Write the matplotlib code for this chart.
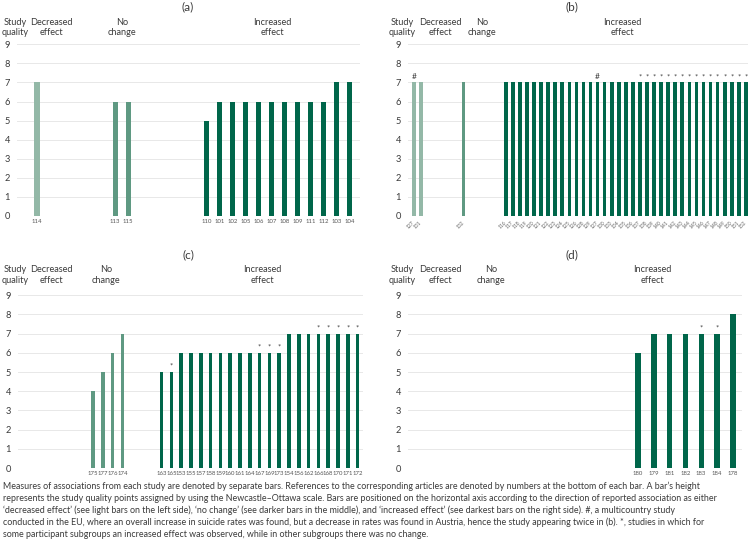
import matplotlib
matplotlib.use("Agg")
import matplotlib.pyplot as plt

plt.rcParams['font.family'] = ['Lato', 'DejaVu Sans']

# ---------------- data ----------------
# Panel (a)
a_dec_labels = ["114"]
a_dec_values = [7]
a_dec_marks = [""]
a_nc_labels = ["113", "115"]
a_nc_values = [6, 6]
a_nc_marks = ["", ""]
a_inc_labels = ["110", "101", "102", "105", "106", "107", "108", "109", "111", "112", "103", "104"]
a_inc_values = [5, 6, 6, 6, 6, 6, 6, 6, 6, 6, 7, 7]
a_inc_marks = [""] * 12

# Panel (b)
b_dec_labels = ["127", "131"]
b_dec_values = [7, 7]
b_dec_marks = ["#", ""]
b_nc_labels = ["132"]
b_nc_values = [7]
b_nc_marks = [""]
b_inc_labels = ["116", "117", "118", "119", "120", "121", "122", "123", "124", "125", "126", "128",
                "129", "127", "130", "133", "134", "135", "136", "137", "138", "139", "140", "141",
                "142", "143", "144", "145", "146", "147", "148", "149", "150", "151", "152"]
b_inc_values = [7] * 35
b_inc_marks = [""] * 13 + ["#"] + [""] * 5 + ["*"] * 16

# Panel (c)
c_dec_labels = []
c_dec_values = []
c_dec_marks = []
c_nc_labels = ["175", "177", "176", "174"]
c_nc_values = [4, 5, 6, 7]
c_nc_marks = ["", "", "", ""]
c_inc_labels = ["163", "165", "153", "155", "157", "158", "159", "160", "161", "164", "167", "169",
                "173", "154", "156", "162", "166", "168", "170", "171", "172"]
c_inc_values = [5, 5, 6, 6, 6, 6, 6, 6, 6, 6, 6, 6, 6, 7, 7, 7, 7, 7, 7, 7, 7]
c_inc_marks = ["", "*"] + [""] * 8 + ["*", "*", "*"] + [""] * 3 + ["*"] * 5

# Panel (d)
d_dec_labels = []
d_dec_values = []
d_dec_marks = []
d_nc_labels = []
d_nc_values = []
d_nc_marks = []
d_inc_labels = ["180", "179", "181", "182", "183", "184", "178"]
d_inc_values = [6, 7, 7, 7, 7, 7, 8]
d_inc_marks = ["", "", "", "", "*", "*", ""]

y_ticks = list(range(10))

caption = ("Measures of associations from each study are denoted by separate bars. References to the corresponding articles are denoted by numbers at the bottom of each bar. A bar\u2019s height\n"
           "represents the study quality points assigned by using the Newcastle\u2013Ottawa scale. Bars are positioned on the horizontal axis according to the direction of reported association as either\n"
           "\u2018decreased effect\u2019 (see light bars on the left side), \u2018no change\u2019 (see darker bars in the middle), and \u2018increased effect\u2019 (see darkest bars on the right side). #, a multicountry study\n"
           "conducted in the EU, where an overall increase in suicide rates was found, but a decrease in rates was found in Austria, hence the study appearing twice in (b). *, studies in which for\n"
           "some participant subgroups an increased effect was observed, while in other subgroups there was no change.")

# ---------------- style ----------------
C_DEC = "#93b8a7"
C_NC = "#5f9982"
C_INC = "#00664a"
TXT = "#3a3a3a"
W, H = 749, 541

fig = plt.figure(figsize=(W / 100, H / 100), dpi=100)


def px_rect(left, right, bottom_px, top_px):
    return [left / W, 1 - bottom_px / H, (right - left) / W, (bottom_px - top_px) / H]


def panel(rect, groups, starts, xlim, width, rotate, title, title_xy, heads):
    ax = fig.add_axes(rect)
    ax.set_ylim(0, 9.3)
    ax.set_xlim(*xlim)
    for s in ax.spines.values():
        s.set_visible(False)
    ax.set_yticks(y_ticks)
    ax.tick_params(axis='y', length=0, pad=5, labelsize=6.7, labelcolor=TXT)
    ax.grid(axis='y', color='#e8e8e8', lw=0.7)
    ax.set_axisbelow(True)
    pos_all, lab_all = [], []
    for (labels, values, marks, color), st in zip(groups, starts):
        pos = [st + i for i in range(len(values))]
        ax.bar(pos, values, width=width, color=color, zorder=3)
        for p, v, m in zip(pos, values, marks):
            if m:
                ax.text(p, v + 0.12, m, ha='center', va='bottom',
                        fontsize=6 if m == '#' else 5.5, color=TXT)
        pos_all += pos
        lab_all += labels
    ax.set_xticks(pos_all)
    if rotate:
        ax.set_xticklabels(lab_all, rotation=45, ha='right', va='center',
                           rotation_mode='anchor', fontsize=3.6, color='#666')
        ax.tick_params(axis='x', length=0, pad=4)
    else:
        ax.set_xticklabels(lab_all, fontsize=4.3, color='#555')
        ax.tick_params(axis='x', length=0, pad=2.5)
    fig.text(title_xy[0] / W, 1 - title_xy[1] / H, title, ha='center', va='center',
             fontsize=8.5, color=TXT)
    for txt, (x, y) in heads:
        fig.text(x / W, 1 - y / H, txt, ha='center', va='center', fontsize=6.6,
                 color=TXT, linespacing=1.15)
    return ax


# (a)
panel(px_rect(17, 360, 216, 216 - 9.3 * 19.08),
      [(a_dec_labels, a_dec_values, a_dec_marks, C_DEC),
       (a_nc_labels, a_nc_values, a_nc_marks, C_NC),
       (a_inc_labels, a_inc_values, a_inc_marks, C_INC)],
      [0, 6, 13], (-1.55, 24.8), 0.42, False, "(a)", (188, 7),
      [("Study\nquality", (15, 27.5)), ("Decreased\neffect", (51, 27.5)),
       ("No\nchange", (122, 27.5)), ("Increased\neffect", (272, 27.5))])

# (b)
panel(px_rect(408, 748, 216, 216 - 9.3 * 19.08),
      [(b_dec_labels, b_dec_values, b_dec_marks, C_DEC),
       (b_nc_labels, b_nc_values, b_nc_marks, C_NC),
       (b_inc_labels, b_inc_values, b_inc_marks, C_INC)],
      [0, 7, 13], (-0.85, 47.3), 0.52, True, "(b)", (572, 7),
      [("Study\nquality", (402, 27.5)), ("Decreased\neffect", (440, 27.5)),
       ("No\nchange", (482, 27.5)), ("Increased\neffect", (622, 27.5))])

# (c)
panel(px_rect(18, 363, 468, 468 - 9.3 * 19.2),
      [(c_dec_labels, c_dec_values, c_dec_marks, C_DEC),
       (c_nc_labels, c_nc_values, c_nc_marks, C_NC),
       (c_inc_labels, c_inc_values, c_inc_marks, C_INC)],
      [0, 0, 7], (-7.65, 27.55), 0.38, False, "(c)", (188, 255),
      [("Study\nquality", (15, 275)), ("Decreased\neffect", (51, 275)),
       ("No\nchange", (106, 275)), ("Increased\neffect", (262, 275))])

# (d)
panel(px_rect(408, 742, 468, 468 - 9.3 * 19.2),
      [(d_dec_labels, d_dec_values, d_dec_marks, C_DEC),
       (d_nc_labels, d_nc_values, d_nc_marks, C_NC),
       (d_inc_labels, d_inc_values, d_inc_marks, C_INC)],
      [0, 0, 0], (-14.56, 6.58), 0.34, False, "(d)", (572, 255),
      [("Study\nquality", (402, 275)), ("Decreased\neffect", (440, 275)),
       ("No\nchange", (491, 275)), ("Increased\neffect", (652, 275))])

fig.text(3 / W, 1 - 482 / H, caption, ha='left', va='top', fontsize=6.4,
         color=TXT, linespacing=1.36)

fig.savefig("out.png", dpi=100)
